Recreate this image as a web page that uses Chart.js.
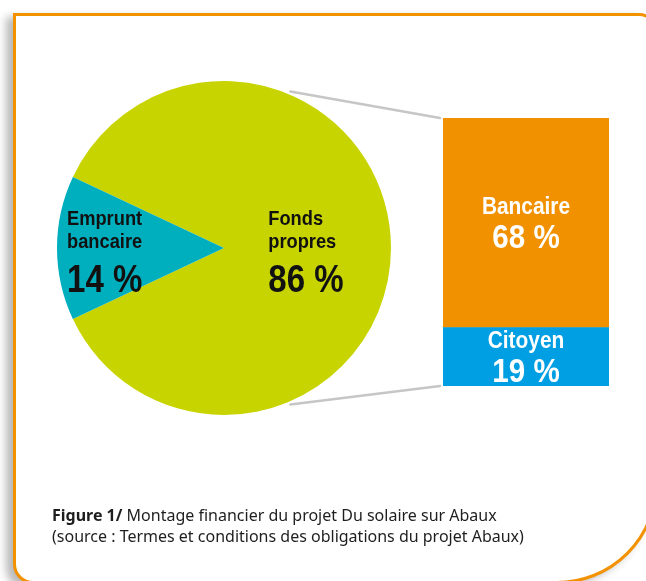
<!DOCTYPE html>
<html lang="fr">
<head>
<meta charset="utf-8">
<script src="https://cdn.jsdelivr.net/npm/chart.js@4.4.1/dist/chart.umd.min.js"></script>
<style>
  html, body { margin: 0; padding: 0; background: #fff; overflow: hidden; width: 646px; height: 581px; }
  .frame {
    position: absolute; left: 13px; top: 13px; width: 645px; height: 571px;
    box-sizing: border-box; border: 3px solid #f39200;
    border-radius: 0 19px 101px 20px;
    box-shadow: -7px 4px 8px rgba(0, 0, 0, 0.28);
    background: #fff;
  }
  canvas { position: absolute; left: 0; top: 0; }
  .caption {
    position: absolute; left: 52px; top: 505px;
    font: 16px/21px "Noto Sans", sans-serif; color: #1e1e1e; white-space: nowrap;
  }
</style>
</head>
<body>
<div class="frame"></div>
<canvas id="pie" width="646" height="581"></canvas>
<canvas id="bar" width="646" height="581"></canvas>
<div class="caption"><b>Figure 1/</b> Montage financier du projet Du solaire sur Abaux<br>(source : Termes et conditions des obligations du projet Abaux)</div>
<script>
const pieLabels = [['Fonds', 'propres'], ['Emprunt', 'bancaire']];
const pieValues = [86, 14];
const pieColors = ['#c8d400', '#00afbe'];

// split of the equity part, bottom to top
const barLabels = ['Citoyen', 'Bancaire'];
const barValues = [19, 68];
const barColors = ['#009fe3', '#f29100'];

const bold = size => `bold ${size}px "Liberation Sans", Arial, sans-serif`;
const sum = arr => arr.reduce((a, b) => a + b, 0);

// condensed look: squeeze the bold sans horizontally
function narrowText(ctx, text, x, y, align, font) {
  ctx.save();
  ctx.translate(x, y);
  ctx.scale(0.87, 1);
  ctx.font = font;
  ctx.textAlign = align;
  ctx.fillText(text, 0, 0);
  ctx.restore();
}

const pieText = {
  id: 'pieText',
  afterDatasetsDraw(chart) {
    const ctx = chart.ctx;
    const { x: cx, y: cy, outerRadius: r } = chart.getDatasetMeta(0).data[0];
    const lefts = [cx + r * 0.265, cx - r * 0.94];
    ctx.save();
    ctx.fillStyle = '#111';
    pieValues.forEach((v, i) => {
      narrowText(ctx, pieLabels[i][0], lefts[i], cy - 23, 'left', bold(21));
      narrowText(ctx, pieLabels[i][1], lefts[i], cy, 'left', bold(21));
      narrowText(ctx, v + ' %', lefts[i], cy + 44, 'left', bold(38));
    });
    ctx.restore();
  }
};

const pieChart = new Chart(document.getElementById('pie'), {
  type: 'pie',
  data: {
    labels: pieLabels.map(l => l.join(' ')),
    datasets: [{ data: pieValues, backgroundColor: pieColors, borderWidth: 0 }]
  },
  options: {
    responsive: false,
    animation: false,
    // keep the small slice centred on the left side
    rotation: 270 + pieValues[1] / sum(pieValues) * 180,
    layout: { padding: { left: 57, top: 81, right: 255, bottom: 166 } },
    plugins: { legend: { display: false }, tooltip: { enabled: false } }
  },
  plugins: [pieText]
});

const connectors = {
  id: 'connectors',
  beforeDatasetsDraw(chart) {
    const ctx = chart.ctx;
    const arc = pieChart.getDatasetMeta(0).data[0];
    const bottom = chart.getDatasetMeta(0).data[0];
    const top = chart.getDatasetMeta(1).data[0];
    const left = top.x - top.width / 2 - 3;
    const a = 67 * Math.PI / 180;
    const r = arc.outerRadius + 3;
    ctx.save();
    ctx.strokeStyle = '#c6c6c6';
    ctx.lineWidth = 2.5;
    ctx.lineCap = 'round';
    ctx.beginPath();
    ctx.moveTo(arc.x + r * Math.cos(-a), arc.y + r * Math.sin(-a));
    ctx.lineTo(left, top.y);
    ctx.moveTo(arc.x + r * Math.cos(a), arc.y + r * Math.sin(a));
    ctx.lineTo(left, bottom.base);
    ctx.stroke();
    ctx.restore();
  }
};

const barText = {
  id: 'barText',
  afterDatasetsDraw(chart) {
    const ctx = chart.ctx;
    ctx.save();
    ctx.fillStyle = '#fff';
    barValues.forEach((v, i) => {
      const el = chart.getDatasetMeta(i).data[0];
      const mid = (el.y + el.base) / 2;
      narrowText(ctx, barLabels[i], el.x, mid - 9, 'center', bold(24));
      narrowText(ctx, v + ' %', el.x, mid + 25, 'center', bold(34));
    });
    ctx.restore();
  }
};

new Chart(document.getElementById('bar'), {
  type: 'bar',
  data: {
    labels: ['Fonds propres'],
    datasets: barLabels.map((label, i) => ({
      label,
      data: [barValues[i]],
      backgroundColor: barColors[i],
      borderWidth: 0,
      barPercentage: 1,
      categoryPercentage: 1
    }))
  },
  options: {
    responsive: false,
    animation: false,
    layout: { padding: { left: 443, top: 118, right: 37, bottom: 195 } },
    scales: {
      x: { stacked: true, display: false },
      y: { stacked: true, display: false, min: 0, max: sum(barValues) }
    },
    plugins: { legend: { display: false }, tooltip: { enabled: false } }
  },
  plugins: [connectors, barText]
});
</script>
</body>
</html>
